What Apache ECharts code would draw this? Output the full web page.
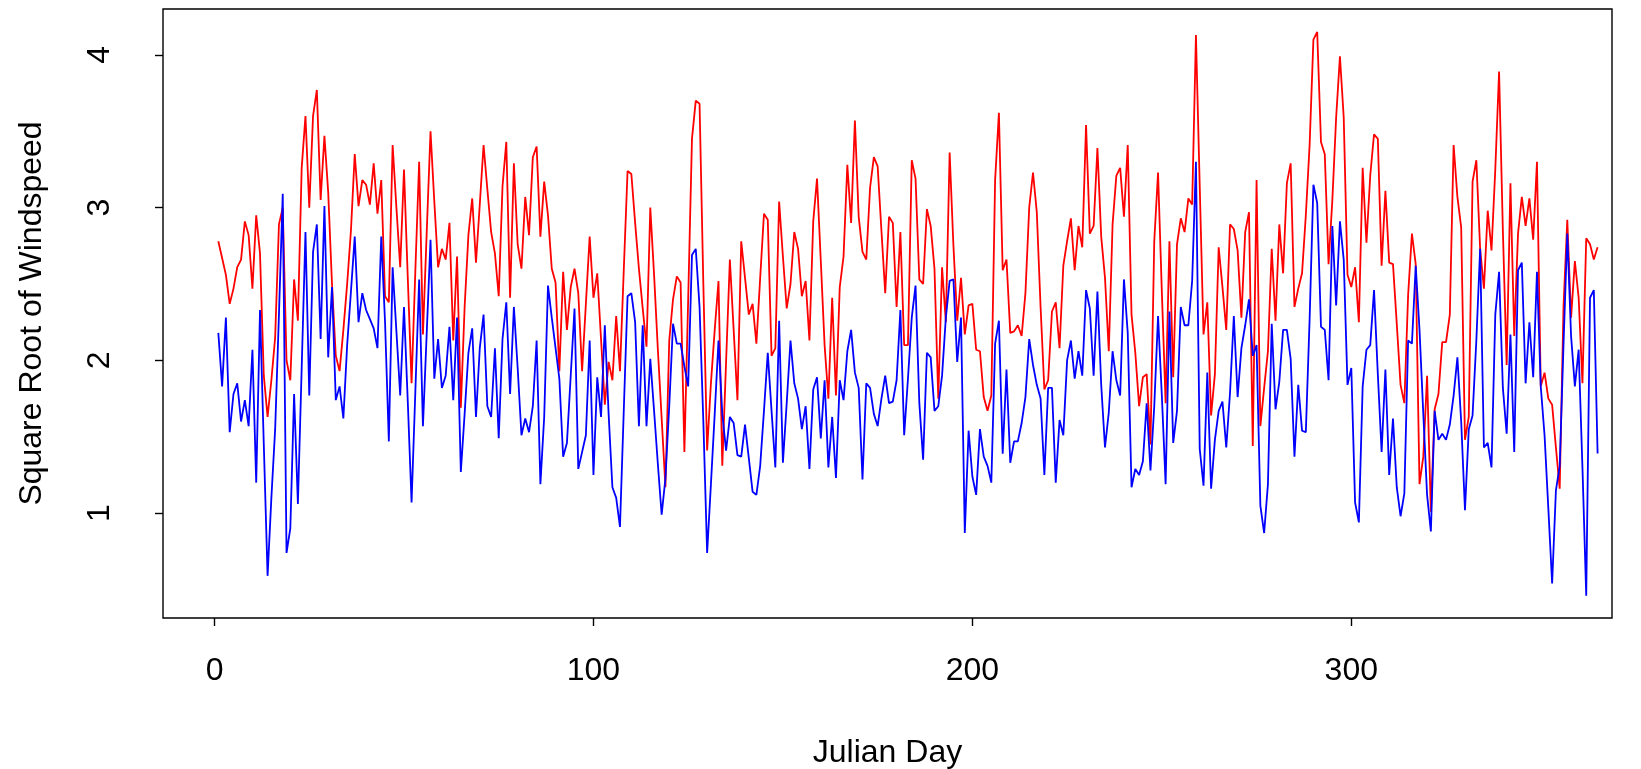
<!DOCTYPE html>
<html><head><meta charset="utf-8">
<script src="https://cdn.jsdelivr.net/npm/echarts@6/dist/echarts.min.js"></script>
<style>html,body{margin:0;padding:0;background:#fff}#c{width:1641px;height:769px}</style>
</head><body><div id="c"></div>
<script>
const firstDay = 1;
const xTicks = [0, 100, 200, 300];
const yTicks = [1, 2, 3, 4];
const xTitle = 'Julian Day';
const yTitle = 'Square Root of Windspeed';

const redSeries = [
2.78,2.67,2.56,2.37,2.47,2.61,2.66,2.91,2.82,2.47,
2.95,2.70,1.90,1.63,1.87,2.15,2.89,3.00,2.00,1.87,
2.53,2.26,3.26,3.60,3.00,3.60,3.77,3.05,3.47,3.10,
2.50,2.03,1.93,2.20,2.50,2.85,3.35,3.01,3.18,3.15,
3.02,3.29,2.96,3.18,2.42,2.38,3.41,3.00,2.61,3.25,
2.54,1.85,2.59,3.30,2.17,2.84,3.50,3.04,2.61,2.73,
2.66,2.90,2.13,2.68,1.69,2.35,2.82,3.06,2.64,3.02,
3.41,3.12,2.84,2.70,2.42,3.14,3.43,2.41,3.29,2.76,
2.60,3.07,2.82,3.33,3.40,2.81,3.17,2.95,2.60,2.51,
1.93,2.58,2.20,2.48,2.60,2.44,1.93,2.37,2.81,2.41,
2.57,2.14,1.71,1.99,1.87,2.29,1.93,2.59,3.24,3.22,
2.90,2.60,2.34,2.09,3.00,2.56,2.07,1.62,1.17,2.13,
2.40,2.55,2.51,1.40,2.40,3.45,3.70,3.68,2.50,1.41,
1.85,2.20,2.52,1.31,1.99,2.66,2.20,1.74,2.78,2.54,
2.30,2.37,2.11,2.54,2.96,2.92,2.03,2.08,3.04,2.68,
2.34,2.50,2.84,2.73,2.42,2.52,2.13,2.91,3.19,2.65,
2.10,1.75,2.41,1.77,2.48,2.68,3.28,2.90,3.57,2.94,
2.71,2.66,3.13,3.33,3.27,2.85,2.44,2.94,2.90,2.35,
2.84,2.10,2.10,3.31,3.19,2.53,2.50,2.99,2.88,2.60,
1.75,2.61,2.25,3.36,2.75,2.26,2.54,2.17,2.36,2.37,
2.07,2.06,1.76,1.67,1.77,3.18,3.62,2.59,2.66,2.18,
2.19,2.23,2.16,2.44,3.00,3.23,2.97,2.35,1.81,1.87,
2.32,2.38,2.08,2.62,2.78,2.93,2.59,2.88,2.74,3.54,
2.83,2.88,3.39,2.81,2.54,2.06,2.89,3.21,3.26,2.94,
3.41,2.30,2.05,1.70,1.89,1.91,1.45,2.78,3.23,2.45,
1.72,2.78,1.89,2.76,2.93,2.84,3.06,3.02,4.13,3.14,
2.17,2.38,1.64,1.91,2.74,2.48,2.20,2.89,2.86,2.72,
2.28,2.84,2.97,1.44,3.18,1.57,1.82,2.06,2.73,2.26,
2.89,2.57,3.16,3.29,2.35,2.47,2.57,2.95,3.41,4.10,
4.15,3.43,3.35,2.63,3.05,3.59,3.99,3.59,2.56,2.48,
2.61,2.25,3.26,2.77,3.21,3.48,3.45,2.62,3.11,2.64,
2.63,2.24,1.84,1.72,2.43,2.83,2.63,1.19,1.37,1.90,
1.01,1.68,1.78,2.12,2.12,2.30,3.41,3.07,2.87,1.48,
1.63,3.17,3.31,2.73,2.47,2.98,2.72,3.25,3.89,2.85,
1.97,3.16,2.16,2.83,3.07,2.88,3.06,2.79,3.30,1.83,
1.92,1.75,1.71,1.43,1.16,2.35,2.92,2.28,2.65,2.41,
1.85,2.80,2.76,2.66,2.74
];

const blueSeries = [
2.18,1.83,2.28,1.53,1.78,1.85,1.60,1.74,1.57,2.07,
1.20,2.33,1.45,0.59,1.10,1.55,2.30,3.09,0.74,0.90,
1.78,1.06,1.95,2.84,1.77,2.71,2.89,2.14,3.01,2.02,
2.48,1.74,1.83,1.62,2.10,2.45,2.81,2.25,2.44,2.33,
2.27,2.21,2.08,2.81,2.25,1.47,2.61,2.19,1.77,2.35,
1.73,1.07,1.80,2.53,1.57,2.18,2.79,1.88,2.14,1.82,
1.90,2.22,1.74,2.28,1.27,1.65,2.05,2.21,1.63,2.08,
2.30,1.70,1.63,2.08,1.49,2.14,2.38,1.78,2.35,1.95,
1.51,1.62,1.53,1.70,2.13,1.19,1.63,2.49,2.28,2.08,
1.88,1.37,1.46,1.90,2.34,1.29,1.40,1.51,2.13,1.25,
1.89,1.63,2.23,1.65,1.17,1.10,0.91,1.67,2.42,2.44,
2.25,1.57,2.23,1.57,2.01,1.67,1.32,0.99,1.23,1.70,
2.24,2.11,2.11,1.96,1.83,2.69,2.73,2.35,1.60,0.74,
1.19,1.65,2.13,1.65,1.41,1.63,1.59,1.38,1.37,1.58,
1.36,1.14,1.12,1.31,1.67,2.05,1.67,1.30,2.26,1.33,
1.72,2.13,1.85,1.75,1.55,1.70,1.29,1.81,1.89,1.49,
1.87,1.30,1.63,1.23,1.87,1.74,2.06,2.20,1.92,1.82,
1.22,1.85,1.82,1.65,1.57,1.75,1.90,1.72,1.73,1.87,
2.33,1.51,1.88,2.28,2.49,1.72,1.35,2.05,2.02,1.67,
1.70,1.90,2.28,2.52,2.53,1.99,2.28,0.87,1.54,1.24,
1.12,1.55,1.37,1.31,1.20,2.11,2.26,1.39,1.94,1.33,
1.47,1.47,1.59,1.76,2.14,1.97,1.84,1.75,1.25,1.82,
1.82,1.20,1.61,1.51,2.00,2.13,1.88,2.06,1.90,2.46,
2.34,1.90,2.45,1.84,1.43,1.66,2.06,1.87,1.77,2.53,
2.18,1.17,1.29,1.25,1.34,1.72,1.28,1.70,2.29,1.77,
1.19,2.32,1.46,1.67,2.35,2.23,2.23,2.52,3.30,1.42,
1.18,1.92,1.16,1.48,1.67,1.73,1.43,1.79,2.29,1.76,
2.08,2.23,2.40,2.03,2.10,1.05,0.87,1.19,2.24,1.68,
1.86,2.20,2.20,2.01,1.37,1.84,1.54,1.53,2.27,3.15,
3.03,2.22,2.20,1.87,2.88,2.36,2.91,2.66,1.84,1.95,
1.07,0.94,1.83,2.07,2.10,2.46,1.91,1.40,1.94,1.25,
1.62,1.17,0.98,1.13,2.13,2.11,2.62,2.20,1.65,1.12,
0.88,1.67,1.48,1.52,1.48,1.58,1.77,2.02,1.60,1.02,
1.55,1.64,2.13,2.73,1.43,1.46,1.30,2.30,2.58,1.82,
1.52,2.17,1.40,2.59,2.64,1.85,2.25,1.89,2.58,1.83,
1.51,1.03,0.54,1.15,1.31,2.10,2.83,2.16,1.83,2.07,
1.30,0.46,2.41,2.46,1.39
];

function pairs(vals) { return vals.map(function (v, i) { return [firstDay + i, v]; }); }

const FONT = 'Liberation Sans';
const FS = 32;
const chart = echarts.init(document.getElementById('c'), null, { renderer: 'canvas' });
chart.setOption({
  animation: false,
  backgroundColor: '#ffffff',
  grid: { left: 163, right: 29, top: 9, bottom: 151, show: true, borderColor: '#000', borderWidth: 1.4, backgroundColor: 'transparent', containLabel: false, outerBoundsMode: 'none' },
  xAxis: {
    type: 'value', min: -13.6, max: 368.8,
    name: xTitle, nameLocation: 'middle', nameGap: 119,
    nameTextStyle: { color: '#000', fontSize: FS, fontFamily: FONT },
    axisLine: { show: false, onZero: false }, splitLine: { show: false },
    axisTick: { show: true, customValues: xTicks, length: 8, inside: false, lineStyle: { color: '#000', width: 1.4 } },
    axisLabel: { customValues: xTicks, margin: 37, color: '#000', fontSize: FS, fontFamily: FONT }
  },
  yAxis: {
    type: 'value', min: 0.314, max: 4.30,
    name: yTitle, nameLocation: 'middle', nameGap: 115, nameRotate: 90,
    nameTextStyle: { color: '#000', fontSize: FS, fontFamily: FONT },
    axisLine: { show: false, onZero: false }, splitLine: { show: false },
    axisTick: { show: true, customValues: yTicks, length: 8, inside: false, lineStyle: { color: '#000', width: 1.4 } },
    axisLabel: { customValues: yTicks, margin: 47, rotate: 90, color: '#000', fontSize: FS, fontFamily: FONT }
  },
  series: [
    { type: 'line', data: pairs(redSeries), showSymbol: false, symbol: 'none', lineStyle: { color: '#ff0000', width: 1.8 }, z: 2 },
    { type: 'line', data: pairs(blueSeries), showSymbol: false, symbol: 'none', lineStyle: { color: '#0000ff', width: 1.8 }, z: 3 }
  ]
});
</script>
</body></html>
